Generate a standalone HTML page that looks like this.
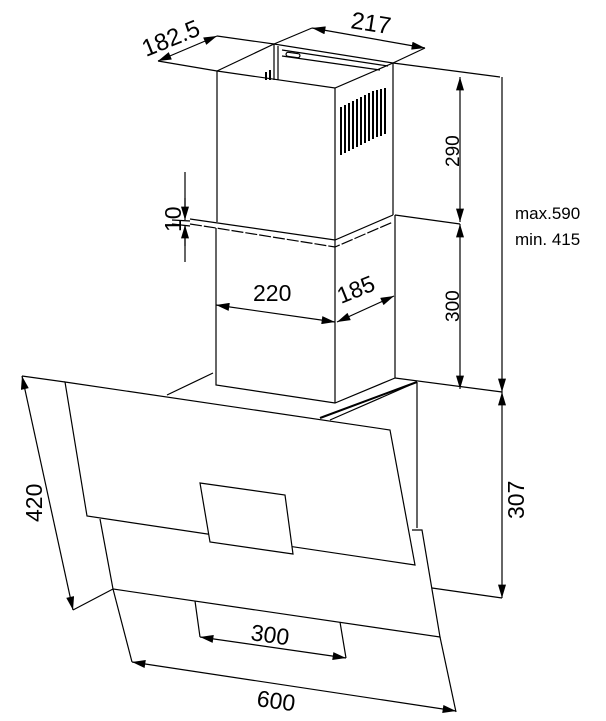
<!DOCTYPE html>
<html><head><meta charset="utf-8"><style>
html,body{margin:0;padding:0;background:#fff}
svg{display:block}
text{font-family:"Liberation Sans",sans-serif;fill:#000}
</style></head><body>
<svg width="606" height="721" viewBox="0 0 606 721" xmlns="http://www.w3.org/2000/svg">
<defs>
<marker id="a" viewBox="0 0 10 6" refX="10" refY="3" markerWidth="18" markerHeight="8" markerUnits="userSpaceOnUse" orient="auto-start-reverse"><path d="M0,0L10,3L0,6z" fill="#000"/></marker>
</defs>
<g stroke="#000" stroke-width="1.2" fill="none">
<path d="M217,71L335,88L393,63"/>
<path d="M217,71L274,44L393,63"/>
<path d="M274,44V80M278,46V80"/>
<path d="M282,50L388,66M282,56L380,70"/>
<rect x="286" y="53" width="14" height="4" rx="2" transform="rotate(8 293 55)"/>
<path d="M217,71V222M335,88V403M393,63V215"/>
<path d="M190,219L335,240L393,215"/>
<path d="M190,224L216,228L335,247L393,222" stroke-dasharray="12,2"/>
<g stroke-width="2">
<path d="M341,107V155M345,105V153M349,103V151M353,101V149M357,99V147M361,97V145M365,95V143M369,93V141M373,91V139M377,90V137M381,89V136M385,88V134"/>
<path d="M266,80V72M270,80V70"/>
</g>
<path d="M216,228V385L335,403L395,378V215"/>
<path d="M167,395L213,373M417,382L330,420"/>
<path d="M320,418L417,382" stroke-width="2"/>
<path d="M417,382V528"/>
<path d="M65,382L390,430L415,565L87,516Z"/>
<path d="M200,483L285,495L293,554L210,542Z" fill="#fff"/>
<path d="M100,519L113,589L440,637L422,530L412,530"/>
<path d="M158,61L217,71M217,36L274,44M274,44L312,28M393,63L425,48"/>
<path d="M393,63L500,77M395,215L460,224M395,378L502,392M432,588L502,598"/>
<path d="M22,376L65,382M73,610L113,589M113,589L132,662M440,637L456,712M195,601L200,637M340,622L346,658"/>
<path d="M185,172V218M185,262V226M172,220L190,221M172,224L190,226"/>
<path d="M158,61L217,36" marker-start="url(#a)" marker-end="url(#a)"/>
<path d="M312,28L425,48" marker-start="url(#a)" marker-end="url(#a)"/>
<path d="M460,77V222" marker-start="url(#a)" marker-end="url(#a)"/>
<path d="M460,224V389" marker-start="url(#a)" marker-end="url(#a)"/>
<path d="M502,77V392" marker-end="url(#a)"/>
<path d="M502,392V598" marker-start="url(#a)" marker-end="url(#a)"/>
<path d="M216,305L335,322" marker-start="url(#a)" marker-end="url(#a)"/>
<path d="M337,322L394,296" marker-start="url(#a)" marker-end="url(#a)"/>
<path d="M185,198V220" marker-end="url(#a)"/>
<path d="M185,246V225" marker-end="url(#a)"/>
<path d="M22,376L73,610" marker-start="url(#a)" marker-end="url(#a)"/>
<path d="M132,662L456,711" marker-start="url(#a)" marker-end="url(#a)"/>
<path d="M200,637L346,658" marker-start="url(#a)" marker-end="url(#a)"/>
</g>
<text x="0" y="0" font-size="24" transform="translate(146,57) rotate(-22)">182.5</text>
<text x="0" y="0" font-size="24" transform="translate(350,28) rotate(9)">217</text>
<text x="0" y="0" font-size="19" transform="translate(459,167) rotate(-90)">290</text>
<text x="0" y="0" font-size="19" transform="translate(459,322) rotate(-90)">300</text>
<text x="0" y="0" font-size="23" transform="translate(524,519) rotate(-90)">307</text>
<text x="515" y="219" font-size="17">max.590</text>
<text x="515" y="245" font-size="17">min. 415</text>
<text x="0" y="0" font-size="23" transform="translate(181,232) rotate(-90)">10</text>
<text x="253" y="301" font-size="23">220</text>
<text x="0" y="0" font-size="23" transform="translate(341,304) rotate(-22)">185</text>
<text x="0" y="0" font-size="23" transform="translate(42,522) rotate(-90)">420</text>
<text x="0" y="0" font-size="23" transform="translate(250,640) rotate(8)">300</text>
<text x="0" y="0" font-size="23" transform="translate(256,706) rotate(8)">600</text>
</svg>
</body></html>
